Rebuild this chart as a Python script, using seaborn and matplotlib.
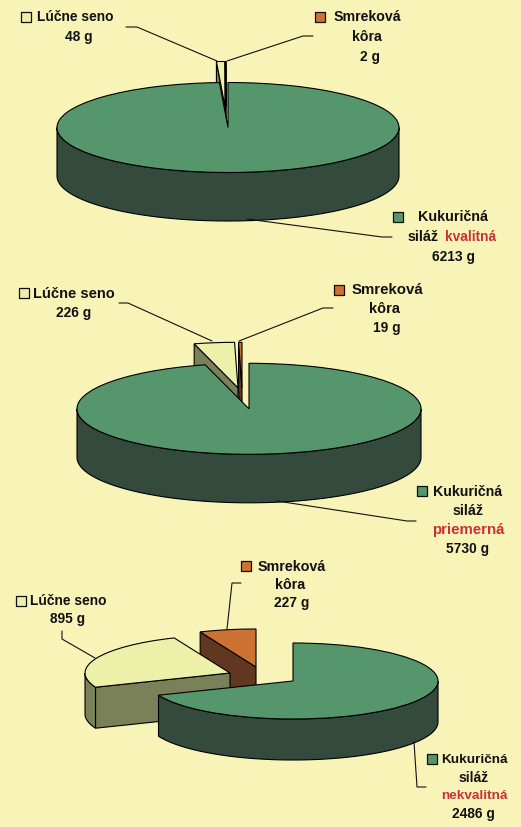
import numpy as np
import matplotlib
matplotlib.use("Agg")
import matplotlib.pyplot as plt
import seaborn as sns

# grams per silage quality, order is always silage, hay, bark
values_kvalitna = [6213, 48, 2]
values_priemerna = [5730, 226, 19]
values_nekvalitna = [2486, 895, 227]

quality_names = ["kvalitná", "priemerná", "nekvalitná"]
name_silage = ["Kukuričná", "siláž"]
name_hay = ["Lúčne seno"]
name_bark = ["Smreková", "kôra"]

BG = "#F8F3B6"
RED = "#C9303A"
top_colors = sns.color_palette(["#55966C", "#EDF0A8", "#CC7233"])
side_colors = sns.color_palette(["#344A3C", "#7A8057", "#623721"])

sns.set_theme(style="white")
plt.rcParams["font.family"] = ["Liberation Sans", "DejaVu Sans"]
plt.rcParams["font.weight"] = "bold"

W, H = 521, 828
fig = plt.figure(figsize=(W / 100, H / 100), dpi=100, facecolor=BG)


def pie_3d(values, cx, cy, rx, ry, depth, offsets, order):
    # whole figure axes, scaled so the unit pie lands on the wanted ellipse
    ax = fig.add_axes([0, 0, 1, 1], facecolor="none")
    wedges, _ = ax.pie(values, colors=top_colors, startangle=90, counterclock=False,
                       wedgeprops=dict(edgecolor="black", linewidth=0.8))
    ax.set_aspect("auto")
    ax.set_xlim(-cx / rx, (W - cx) / rx)
    ax.set_ylim((cy - H) / ry, cy / ry)
    d = depth / ry

    for i, w in enumerate(wedges):
        z = order[i] * 10
        ox = offsets[i][0] / rx
        oy = -offsets[i][1] / ry
        w.set_center((ox, oy))
        w.set_zorder(z + 2)
        a, b = w.theta1, w.theta2
        if b < a:
            b += 360
        style = dict(facecolor=side_colors[i], edgecolor="black", linewidth=0.8)

        # cut faces, only those turned to the viewer
        for t, normal in [(a, a - 90), (b, b + 90)]:
            if np.sin(np.radians(normal)) < -1e-6:
                ex = ox + np.cos(np.radians(t))
                ey = oy + np.sin(np.radians(t))
                ax.fill([ox, ex, ex, ox], [oy, ey, ey - d, oy - d], zorder=z, **style)

        # outer wall, lower half of the ellipse only
        for k in range(-1, 2):
            lo = max(a, 180 + 360 * k)
            hi = min(b, 360 + 360 * k)
            if hi > lo:
                t = np.radians(np.linspace(lo, hi, 80))
                px = ox + np.cos(t)
                py = oy + np.sin(t)
                ax.fill(np.r_[px, px[::-1]], np.r_[py, py[::-1] - d], zorder=z + 1, **style)
    ax.set_axis_off()


pie_3d(values_kvalitna, 228, 128.5, 171, 45, 48.5, [(0, 0), (-3, -21), (-2, -21)], [3, 2, 1])
pie_3d(values_priemerna, 250, 409.8, 172, 45.5, 48.5, [(-1, 0), (-12, -21), (-8, -21)], [3, 1, 2])
pie_3d(values_nekvalitna, 293, 682, 145, 38, 41, [(0, 0), (-63, -8), (-37, -14)], [3, 2, 1])

# overlay in pixel coordinates for leader lines, keys and text
ov = fig.add_axes([0, 0, 1, 1], facecolor="none")
ov.set_xlim(0, W)
ov.set_ylim(H, 0)
ov.set_axis_off()


def leader(pts):
    xs, ys = zip(*pts)
    ov.plot(xs, ys, color="#111111", lw=0.8, solid_joinstyle="miter")


def key(x, y, i):
    ov.scatter([x], [y], marker="s", s=42, color=top_colors[i], edgecolor="#111111", linewidth=0.9, zorder=5)


def label(x, y, s, size=9.9, color="#111111"):
    ov.text(x, y, s, ha="center", va="center", fontsize=size, color=color, fontweight="bold")


leader([(126, 28), (137, 28), (217, 62)])
leader([(227, 62), (303, 37), (313, 37)])
leader([(247, 220), (382, 238), (392, 238)])
leader([(119, 304), (128, 304), (212, 342)])
leader([(239, 342), (323, 309), (333, 309)])
leader([(277, 502), (407, 522), (416, 522)])
leader([(227, 630), (232, 584), (241, 584)])
leader([(95, 659), (62, 640), (62, 632)])
leader([(414, 743), (417, 788), (426, 788)])

# top pie
key(26, 17.5, 1)
label(75.5, 17, name_hay[0])
label(79, 37, f"{values_kvalitna[1]} g")
key(320, 17.5, 2)
label(367, 17, name_bark[0], size=10.2)
label(367, 37, name_bark[1], size=10.2)
label(370, 57, f"{values_kvalitna[2]} g")
key(398, 218, 0)
label(453, 217, name_silage[0], size=10.3)
label(423, 237, name_silage[1], size=10.3)
label(471, 237, quality_names[0], color=RED)
label(453, 257, f"{values_kvalitna[0]} g")

# middle pie
key(24, 294, 1)
label(73.5, 294, name_hay[0], size=10.5)
label(74, 313, f"{values_priemerna[1]} g")
key(339, 290.5, 2)
label(387, 290, name_bark[0], size=10.8)
label(385, 309, name_bark[1], size=10.5)
label(387, 328, f"{values_priemerna[2]} g")
key(422, 492, 0)
label(468, 492, name_silage[0], size=10.2)
label(468, 511, name_silage[1], size=10.3)
label(468, 530, quality_names[1], size=10.8, color=RED)
label(468, 549, f"{values_priemerna[0]} g")

# bottom pie
key(246, 567, 2)
label(292, 567, name_bark[0], size=10.3)
label(290, 585, name_bark[1], size=10.3)
label(292, 603, f"{values_nekvalitna[2]} g")
key(21, 601.5, 1)
label(68, 601, name_hay[0], size=9.9)
label(68, 619, f"{values_nekvalitna[1]} g")
key(432, 760, 0)
label(474, 760, name_silage[0], size=9.7)
label(474, 778, name_silage[1], size=10.0)
label(474, 796, quality_names[2], size=9.7, color=RED)
label(473, 814, f"{values_nekvalitna[0]} g")

fig.savefig("out.png", dpi=100, facecolor=BG)
